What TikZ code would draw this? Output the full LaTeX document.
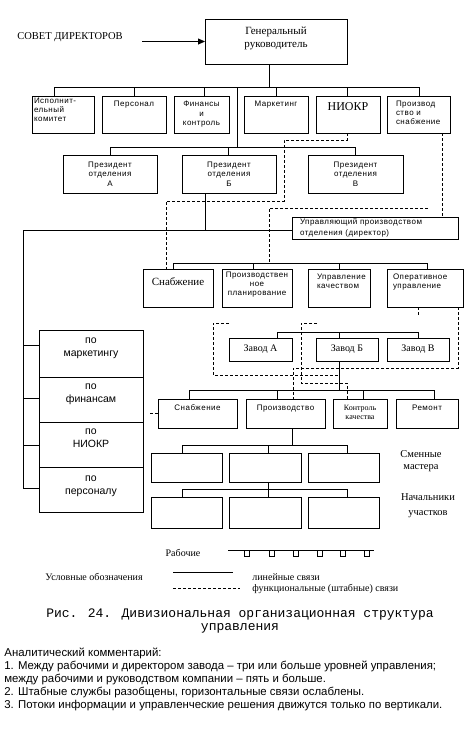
\documentclass[tikz,border=0pt]{standalone}
\usepackage{fontspec}
\usetikzlibrary{arrows.meta,calc}
\setmainfont{Liberation Serif}
\newfontfamily\fsans{Liberation Sans}
\newfontfamily\fsansLS[LetterSpace=6]{Liberation Sans}
\newfontfamily\fmono{Liberation Mono}
\newcommand\ftiny{\fsansLS\fontsize{8}{9}\selectfont}
\newcommand\ftinyb{\fsansLS\fontsize{8}{9.5}\selectfont}
\newcommand\fleft{\fsans\fontsize{10.5}{13}\selectfont}
\newcommand\fserb{\fontsize{11}{12.5}\selectfont}
\newcommand\bx[9]{\node[box] (#1) at (#2,#3) {\parbox[c][#5pt][#6]{#4pt}{\vspace*{#7pt}#8#9\par}};}
\tikzset{
  box/.style={draw, line width=0.8pt, inner sep=0pt, outer sep=0pt},
  ebox/.style 2 args={box, minimum width=#1pt, minimum height=#2pt},
  dsh/.style={line width=0.75pt, dash pattern=on 3pt off 2pt},
  ser/.style={inner sep=0pt, font=\fontsize{10.5}{12}\selectfont, align=center},
}
\begin{document}
\begin{tikzpicture}[x=1pt,y=-1pt, line width=0.8pt]
\fill[white] (0,0) rectangle (469,729);
\useasboundingbox (0,0) rectangle (469,729);

% ---- boxes
\bx{gen}{276}{41.5}{142}{45}{t}{8}{\centering\fserb}{Генеральный\\руководитель}
\bx{isp}{63}{114.5}{62}{37}{t}{2}{\raggedright\leftskip=2pt\relax\ftiny}{Исполнит-\\ельный\\комитет}
\bx{pers}{134}{114.5}{64}{37}{t}{5}{\centering\ftiny}{Персонал}
\bx{fin}{201.5}{114.5}{55}{37}{t}{5}{\centering\ftinyb}{Финансы\\и\\контроль}
\bx{mark}{276}{114.5}{64}{37}{t}{5}{\centering\ftiny}{Маркетинг}
\bx{niokr}{348}{114.5}{64}{37}{t}{7}{\centering\fontsize{12}{14}\selectfont}{НИОКР}
\bx{prs}{418.5}{114.5}{63}{37}{t}{5}{\raggedright\leftskip=9pt\relax\ftiny}{Производ\\ство и\\снабжение}

\bx{prA}{110}{174}{94}{38}{c}{0}{\centering\ftinyb}{Президент\\отделения\\А}
\bx{prB}{229}{174}{94}{38}{c}{0}{\centering\ftinyb}{Президент\\отделения\\Б}
\bx{prV}{355.5}{174}{95}{38}{c}{0}{\centering\ftinyb}{Президент\\отделения\\В}

\bx{upr}{375}{228}{166}{22}{c}{0}{\raggedright\leftskip=8pt\relax\fsansLS\fontsize{8}{10.5}\selectfont}{Управляющий производством\\отделения (директор)}

\bx{snA}{178}{288}{70}{38}{t}{9}{\centering\fontsize{11}{13}\selectfont}{Снабжение}
\bx{ppl}{257}{288}{70}{38}{t}{3}{\centering\ftiny}{Производствен\\ное\\планирование}
\bx{kach}{339}{288}{62}{38}{t}{5}{\raggedright\leftskip=9pt\relax\ftiny}{Управление\\качеством}
\bx{oper}{425}{288}{76}{38}{t}{5}{\raggedright\leftskip=6pt\relax\ftiny}{Оперативное\\управление}

\bx{zA}{260.5}{349.5}{63}{23}{c}{0}{\centering\fontsize{10}{12}\selectfont}{Завод А}
\bx{zB}{347}{349.5}{62}{23}{c}{0}{\centering\fontsize{10}{12}\selectfont}{Завод Б}
\bx{zV}{418}{349.5}{62}{23}{c}{0}{\centering\fontsize{10}{12}\selectfont}{Завод В}

\bx{snB}{197.5}{413.5}{79}{29}{t}{6}{\centering\ftiny}{Снабжение}
\bx{prd}{285.5}{413.5}{79}{29}{t}{6}{\centering\ftiny}{Производство}
\bx{kon}{360}{413.5}{54}{29}{t}{6}{\centering\fontsize{8}{9}\selectfont}{Контроль\\качества}
\bx{rem}{427}{413.5}{62}{29}{t}{6}{\centering\ftiny}{Ремонт}

\node[ebox={71}{29}] (m1) at (186.5,467.5) {};
\node[ebox={72}{29}] (m2) at (265,467.5) {};
\node[ebox={71}{29}] (m3) at (343.5,467.5) {};
\node[ebox={71}{31}] (s1) at (186.5,512.5) {};
\node[ebox={72}{31}] (s2) at (265,512.5) {};
\node[ebox={71}{31}] (s3) at (343.5,512.5) {};

\bx{lM}{91}{353.5}{104}{47}{t}{8}{\centering\fleft}{по\\маркетингу}
\bx{lF}{91}{399.5}{104}{45}{t}{7}{\centering\fleft}{по\\финансам}
\bx{lN}{91}{444.5}{104}{45}{t}{7}{\centering\fleft}{по\\НИОКР}
\bx{lP}{91}{489.5}{104}{45}{t}{9}{\centering\fleft}{по\\персоналу}

% ---- free texts
\node[ser] (sovet) at (70,37) {СОВЕТ ДИРЕКТОРОВ};
\node[ser] (smen) at (421,461) {Сменные\\мастера};
\node[ser, font=\fontsize{10.5}{14.5}\selectfont] (nach) at (428,505.5) {Начальники\\участков};
\node[ser, font=\fontsize{10}{12}\selectfont] (rab) at (183,553) {Рабочие};
\node[ser, font=\fontsize{10}{12}\selectfont] (usl) at (94,577) {Условные обозначения};
\node[ser, font=\fontsize{10}{12}\selectfont, anchor=west] (lin) at (252,577) {линейные связи};
\node[ser, font=\fontsize{10}{12}\selectfont, anchor=west] (fun) at (252,589) {функциональные (штабные) связи};
\node[inner sep=0pt, align=center, font=\fmono\fontsize{13}{13}\selectfont] (cap) at (240,620.5)
  {Рис. 24. Дивизиональная организационная структура\\управления};
\node[inner sep=0pt, align=left, anchor=north west, font=\fsans\fontsize{11.4}{13}\selectfont] (com) at (4,647.5)
  {Аналитический комментарий:\\
   1. Между рабочими и директором завода – три или больше уровней управления;\\
   между рабочими и руководством компании – пять и больше.\\
   2. Штабные службы разобщены, горизонтальные связи ослаблены.\\
   3. Потоки информации и управленческие решения движутся только по вертикали.};

% ---- solid connectors
\coordinate (arrs) at (142,41.5);
\draw[-{Triangle[length=7pt,width=6pt]}] (arrs) -- (gen.west);
\draw (gen.south -| 269,0) -- (269,87);
\draw (54,87) -- (419,87);
\foreach \n/\x in {isp/54,pers/134,fin/204,mark/276,niokr/347,prs/419}
  \draw (\x,87) -- (\x,87 |- \n.north);
\draw (237,87) -- (237,147);
\draw (110,147) -- (355,147);
\foreach \n/\x in {prA/110,prB/228,prV/355}
  \draw (\x,147) -- (\x,147 |- \n.north);
\draw (prB.south -| 205,0) -- (205,230);
\draw (23,230) -- (23,230 -| upr.west);
\draw (23,230) -- (23,488);
\foreach \n/\y in {lM/345,lF/398,lN/445,lP/488}
  \draw (23,\y) -- (23,\y -| \n.west);
\draw (173,263) -- (427,263);
\foreach \n/\x in {snA/173,ppl/253,kach/339,oper/427}
  \draw (\x,263) -- (\x,263 |- \n.north);
\draw (277,332) -- (418,332);
\foreach \n/\x in {zA/277,zB/339,zV/418}
  \draw (\x,332) -- (\x,332 |- \n.north);
\draw (zB.south -| 339,0) -- (339,390);
\draw (189,390) -- (434,390);
\foreach \n/\x in {snB/189,prd/277,kon/363,rem/434}
  \draw (\x,390) -- (\x,390 |- \n.north);
\draw (prd.south -| 292,0) -- (292,445);
\draw (182,445) -- (347,445);
\foreach \n/\x in {m1/182,m2/268,m3/347}
  \draw (\x,445) -- (\x,445 |- \n.north);
\draw (m2.south -| 268,0) -- (268,489);
\draw (182,489) -- (347,489);
\foreach \n/\x in {s1/182,s2/268,s3/347}
  \draw (\x,489) -- (\x,489 |- \n.north);

% ---- dashed connectors
\draw[dsh] (niokr.south -| 347,0) -- (347,140) -- (284,140) -- (284,201) -- (166,201) -- (166,201 |- snA.north);
\draw[dsh] (prs.south -| 442,0) -- (442,0 |- upr.north);
\draw[dsh] (428,208) -- (269,208) -- (269,263);
\draw[dsh] (oper.south -| 418,0) -- (418,316);
\draw[dsh] (229,323) -- (213,323) -- (213,375) -- (339,375);
\draw[dsh] (317,323) -- (301,323) -- (301,383) -- (347,383) -- (347,383 |- kon.north);
\draw[dsh] (oper.south -| 458,0) -- (458,368) -- (293,368) -- (293,368 |- prd.north);
\draw[dsh] (150,413) -- (snB.west |- 0,413);

% ---- workers
\draw (228,550) -- (374,550);
\foreach \x in {247,272,296,320,343,367}
  \draw (\x-2.5,550) rectangle (\x+2.5,556);

% ---- legend
\draw (173,572) -- (233,572);
\draw[dsh] (173,588) -- (240,588);
\end{tikzpicture}
\end{document}
